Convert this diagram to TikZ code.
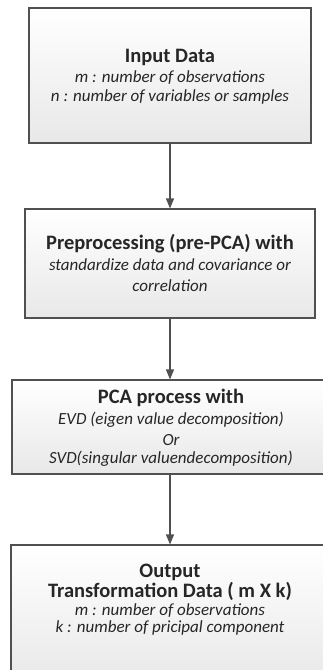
\documentclass[tikz,border=0pt]{standalone}
\usepackage{fontspec}
\setmainfont{Carlito}
\usetikzlibrary{arrows.meta}
\definecolor{edge}{HTML}{505050}
\definecolor{ink}{HTML}{262626}
\tikzset{
  x=1pt, y=-1pt,
  stage/.style={draw=edge, line width=1.1pt, rectangle, top color=white, bottom color=black!9,
    inner sep=0pt},
  title/.style={anchor=base, inner sep=0pt, text=ink, font=\fontsize{20.5}{23}\selectfont\bfseries},
  detail/.style={anchor=base, inner sep=0pt, text=ink, font=\fontsize{17}{20}\selectfont\itshape},
  flow/.style={draw=edge, line width=1.1pt, -{Triangle[width=8pt,length=10pt]}}
}
\begin{document}
\begin{tikzpicture}
\useasboundingbox (0,0) rectangle (323,670);
\clip (0,0) rectangle (323,670);

% boxes
\node[stage, minimum width=282, minimum height=135] (input) at (170,75.5) {};
\node[stage, minimum width=290, minimum height=109] (prep) at (170,263.5) {};
\node[stage, minimum width=318, minimum height=94] (pca) at (171,427) {};
\node[stage, minimum width=319, minimum height=140] (out) at (170.5,615) {};

% input data
\node[title]  (t1)  at (170,62)  {Input Data};
\node[detail] (d1a) at (170,82)  {m : number of observations};
\node[detail] (d1b) at (170,101) {n : number of variables or samples};

% preprocessing
\node[title]  (t2)  at (170,249) {Preprocessing (pre-PCA) with};
\node[detail] (d2a) at (170,270) {standardize data and covariance or};
\node[detail] (d2b) at (170,291) {correlation};

% pca process
\node[title]  (t3)  at (171,403) {PCA process with};
\node[detail] (d3a) at (171,424) {EVD (eigen value decomposition)};
\node[detail] (d3b) at (171,445) {Or};
\node[detail] (d3c) at (171,463) {SVD(singular valuendecomposition)};

% output
\node[title]  (t4a) at (170,577) {Output};
\node[title]  (t4b) at (170,597.5) {Transformation Data ( m X k)};
\node[detail] (d4a) at (170,615) {m : number of observations};
\node[detail] (d4b) at (170,632) {k : number of pricipal component};

% connectors
\draw[flow] (input.south) -- (prep.north);
\draw[flow] (prep.south) -- (pca.north -| prep.south);
\draw[flow] (pca.south -| prep.south) -- (out.north -| prep.south);
\end{tikzpicture}
\end{document}
